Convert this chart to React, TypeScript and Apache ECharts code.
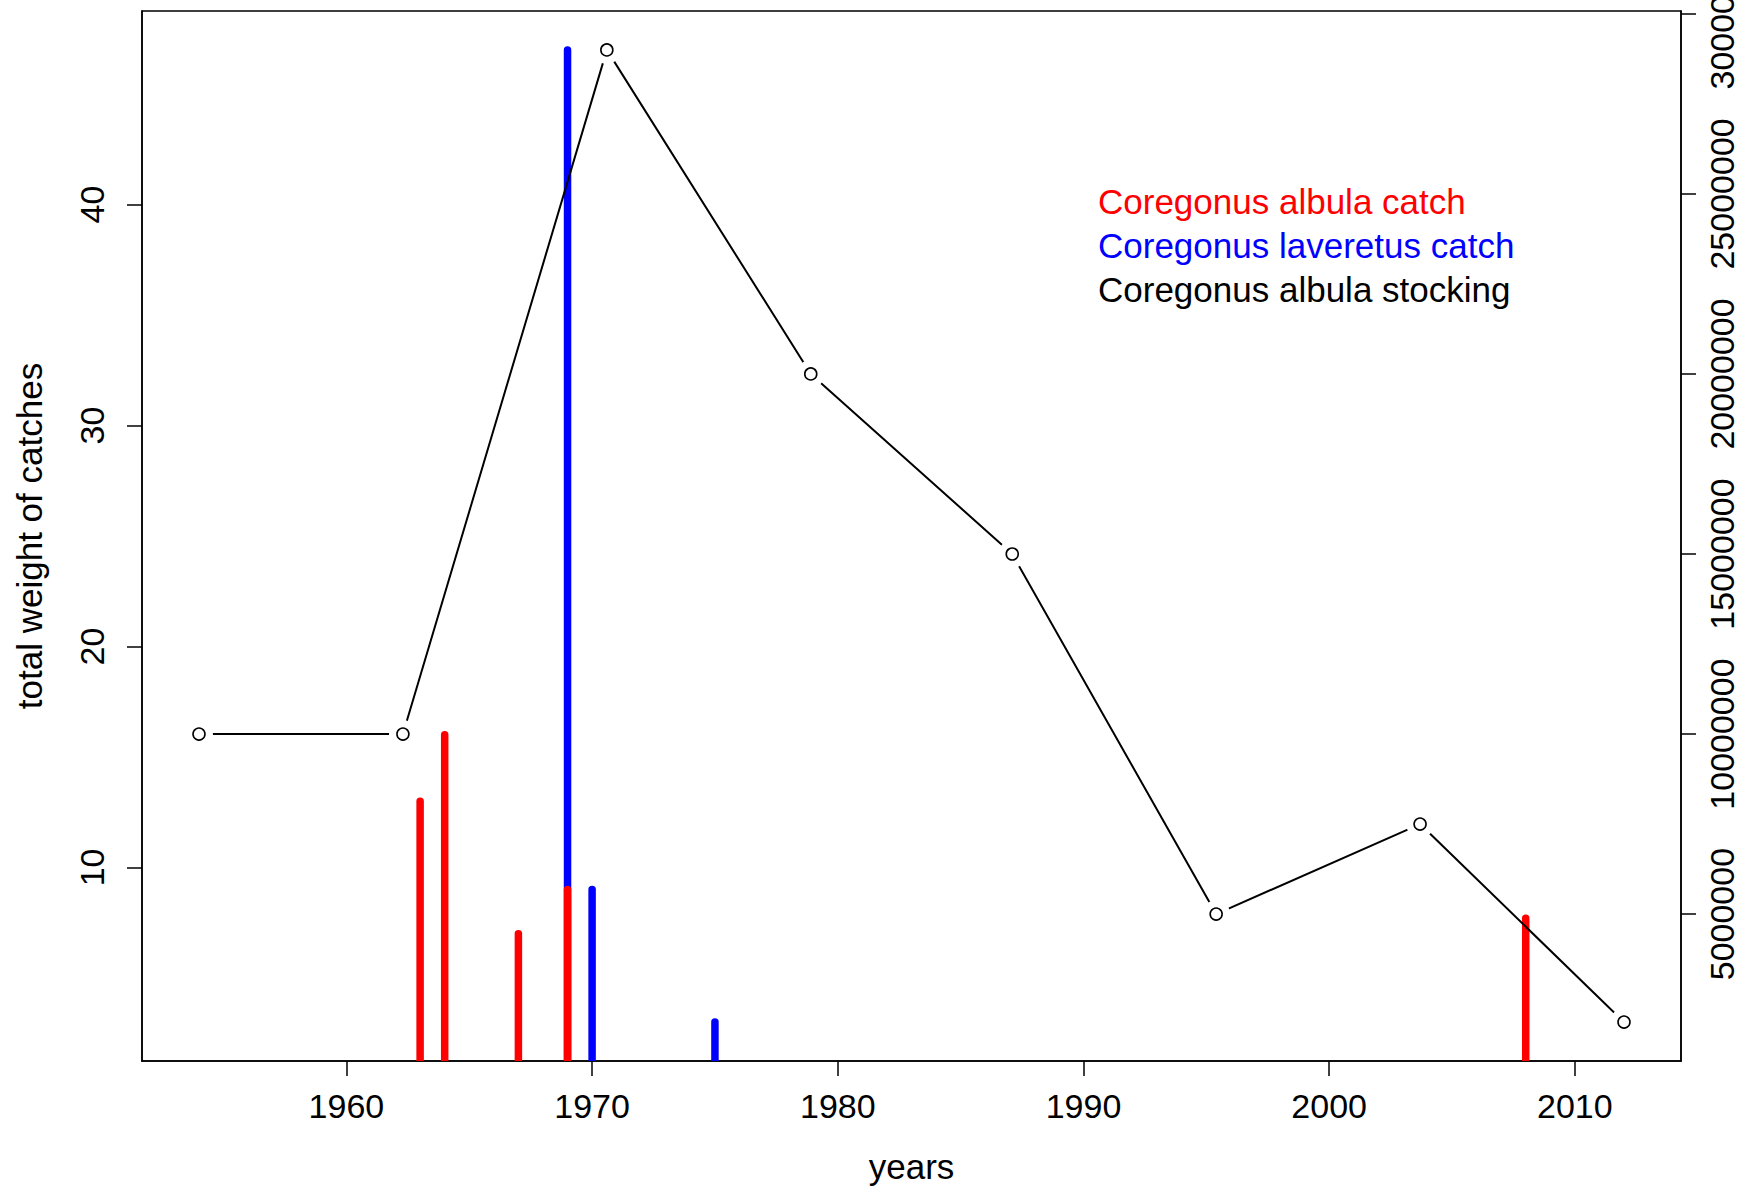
import React, { useEffect, useRef } from "react";
import * as echarts from "echarts";

const albulaCatchYears = [1963, 1964, 1967, 1969, 2008];
const albulaCatchValues = [13, 16, 7, 9, 7.7];
const laveretusCatchYears = [1969, 1970, 1975];
const laveretusCatchValues = [47, 9, 3];
const stockingYears = [1954, 1962.3, 1970.6, 1978.9, 1987.1, 1995.4, 2003.7, 2012];
const stockingValues = [10000000, 10000000, 29000000, 20000000, 15000000, 5000000, 7500000, 2000000];
const xTicks = [1960, 1970, 1980, 1990, 2000, 2010];
const leftTicks = [10, 20, 30, 40];
const rightTicks = [5000000, 10000000, 15000000, 20000000, 25000000, 30000000];

const FONT = "'Liberation Sans', Arial, Helvetica, sans-serif";

const zip = (a: number[], b: number[]) => a.map((v, i) => [v, b[i]]);

const stickRenderer = (color: string) => (params: any, api: any) => {
  const x = api.value(0);
  const y = api.value(1);
  const top = api.coord([x, y]);
  const bot = api.coord([x, 0]);
  return {
    type: "line",
    shape: { x1: top[0], y1: top[1], x2: bot[0], y2: bot[1] },
    style: { stroke: color, lineWidth: 7.5, lineCap: "round" },
  };
};

export default function App() {
  const ref = useRef<HTMLDivElement>(null);
  useEffect(() => {
    document.body.style.margin = "0";
    const chart = echarts.init(ref.current!, null, { renderer: "svg" });
    const axisLabelBase = {
      color: "#000",
      fontFamily: FONT,
      fontSize: 34,
      formatter: (v: number) => String(v),
    };
    chart.setOption({
      animation: false,
      backgroundColor: "#fff",
      grid: {
        left: 142,
        top: 11,
        right: 77,
        bottom: 130,
        outerBoundsMode: "none",
        containLabel: false,
        show: true,
        borderColor: "#000",
        borderWidth: 1.5,
        backgroundColor: "transparent",
      },
      legend: {
        orient: "vertical",
        left: 1088,
        top: 174,
        icon: "none",
        itemWidth: 0,
        itemHeight: 0,
        itemGap: 0,
        selectedMode: false,
        textStyle: { fontFamily: FONT, fontSize: 35, lineHeight: 44 },
        data: [
          { name: "Coregonus albula catch", textStyle: { color: "#ff0000" } },
          { name: "Coregonus laveretus catch", textStyle: { color: "#0000ff" } },
          { name: "Coregonus albula stocking", textStyle: { color: "#000000" } },
        ],
      },
      xAxis: {
        type: "value",
        min: 1951.68,
        max: 2014.32,
        name: "years",
        nameLocation: "middle",
        nameGap: 88,
        nameTextStyle: { color: "#000", fontFamily: FONT, fontSize: 35 },
        axisLine: { show: true, lineStyle: { color: "#000", width: 1.5 } },
        axisTick: { show: true, length: 15, customValues: xTicks, lineStyle: { color: "#000", width: 1.5 } },
        axisLabel: { ...axisLabelBase, margin: 28, customValues: xTicks },
        splitLine: { show: false },
      },
      yAxis: [
        {
          type: "value",
          min: 1.24,
          max: 48.76,
          position: "left",
          name: "total weight of catches",
          nameLocation: "middle",
          nameRotate: 90,
          nameGap: 95,
          nameTextStyle: { color: "#000", fontFamily: FONT, fontSize: 35 },
          axisLine: { show: true, lineStyle: { color: "#000", width: 1.5 } },
          axisTick: { show: true, length: 15, customValues: leftTicks, lineStyle: { color: "#000", width: 1.5 } },
          axisLabel: { ...axisLabelBase, rotate: 90, margin: 33, customValues: leftTicks },
          splitLine: { show: false },
        },
        {
          type: "value",
          min: 920000,
          max: 30080000,
          position: "right",
          axisLine: { show: true, lineStyle: { color: "#000", width: 1.5 } },
          axisTick: { show: true, length: 15, customValues: rightTicks, lineStyle: { color: "#000", width: 1.5 } },
          axisLabel: { ...axisLabelBase, rotate: 90, margin: 24, customValues: rightTicks },
          splitLine: { show: false },
        },
      ],
      series: [
        {
          name: "Coregonus laveretus catch",
          type: "custom",
          yAxisIndex: 0,
          clip: true,
          z: 2,
          renderItem: stickRenderer("#0000ff"),
          data: zip(laveretusCatchYears, laveretusCatchValues),
        },
        {
          name: "Coregonus albula catch",
          type: "custom",
          yAxisIndex: 0,
          clip: true,
          z: 3,
          renderItem: stickRenderer("#ff0000"),
          data: zip(albulaCatchYears, albulaCatchValues),
        },
        {
          name: "Coregonus albula stocking",
          type: "line",
          yAxisIndex: 1,
          z: 4,
          showSymbol: false,
          lineStyle: { color: "#000", width: 2 },
          itemStyle: { color: "#000" },
          data: zip(stockingYears, stockingValues),
        },
        {
          name: "stockingGap",
          type: "scatter",
          yAxisIndex: 1,
          z: 5,
          symbol: "circle",
          symbolSize: 28,
          itemStyle: { color: "#fff", opacity: 1 },
          silent: true,
          data: zip(stockingYears, stockingValues),
        },
        {
          name: "stockingPoints",
          type: "scatter",
          yAxisIndex: 1,
          z: 6,
          symbol: "circle",
          symbolSize: 12,
          itemStyle: { color: "#fff", borderColor: "#000", borderWidth: 1.6, opacity: 1 },
          silent: true,
          data: zip(stockingYears, stockingValues),
        },
      ],
    });
    return () => chart.dispose();
  }, []);
  return <div ref={ref} style={{ width: 1758, height: 1191 }} />;
}
